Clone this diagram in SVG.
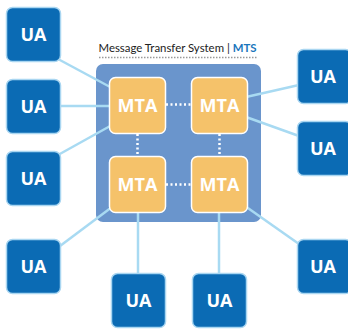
<svg xmlns="http://www.w3.org/2000/svg" width="348" height="331" viewBox="0 0 348 331">
<style>
.ua rect{fill:#0b6bb4;stroke:#a9d6f1;stroke-width:1.5}
.mta rect{fill:#f5c26a;stroke:#ffffff;stroke-width:1.5}
.lbl{font-family:"Open Sans","DejaVu Sans",sans-serif;font-weight:bold;font-size:18px;fill:#ffffff;text-anchor:middle}
.conn line{stroke:#a8daf2;stroke-width:2.5}
.dot line{stroke:#ffffff;stroke-width:2.5;stroke-dasharray:2 2.5}
</style>
<rect width="348" height="331" fill="#ffffff"/>
<g id="mts">
<rect x="96" y="64" width="165" height="158" rx="7" fill="#6a95cc"/>
<text x="98.5" y="52" font-family="Lato,'Open Sans',sans-serif" font-size="11.4" fill="#222">Message Transfer System | <tspan fill="#1a76bc" font-weight="bold">MTS</tspan></text>
<line x1="99" y1="57.5" x2="258" y2="57.5" stroke="#999" stroke-width="1.5" stroke-dasharray="1.5 1.5"/>
</g>
<g id="connectors" class="conn">
<line x1="58" y1="59" x2="112" y2="88"/>
<line x1="61" y1="106" x2="110" y2="106"/>
<line x1="58" y1="155" x2="112" y2="125"/>
<line x1="60" y1="246" x2="112" y2="207"/>
<line x1="138" y1="212" x2="138" y2="274"/>
<line x1="219" y1="212" x2="219" y2="274"/>
<line x1="245" y1="206" x2="299" y2="244"/>
<line x1="246" y1="97" x2="299" y2="85"/>
<line x1="246" y1="117" x2="299" y2="136"/>
</g>
<g id="mta-links" class="dot">
<line x1="166" y1="104.5" x2="191" y2="104.5"/>
<line x1="166" y1="184.5" x2="191" y2="184.5"/>
<line x1="137.5" y1="134" x2="137.5" y2="156"/>
<line x1="219.5" y1="134" x2="219.5" y2="156"/>
</g>
<g id="mta1" class="mta"><rect x="109.5" y="77.5" width="56" height="56" rx="6"/><text class="lbl" x="137.5" y="112">MTA</text></g>
<g id="mta2" class="mta"><rect x="191.5" y="77.5" width="56" height="56" rx="6"/><text class="lbl" x="219.5" y="112">MTA</text></g>
<g id="mta3" class="mta"><rect x="109.5" y="156.5" width="56" height="56" rx="6"/><text class="lbl" x="137.5" y="191">MTA</text></g>
<g id="mta4" class="mta"><rect x="191.5" y="156.5" width="56" height="56" rx="6"/><text class="lbl" x="219.5" y="191">MTA</text></g>
<g id="ua1" class="ua"><rect x="6.5" y="7.5" width="54" height="54" rx="6"/><text class="lbl" x="33.5" y="41">UA</text></g>
<g id="ua2" class="ua"><rect x="6.5" y="79.5" width="54" height="54" rx="6"/><text class="lbl" x="33.5" y="113">UA</text></g>
<g id="ua3" class="ua"><rect x="6.5" y="151.5" width="54" height="54" rx="6"/><text class="lbl" x="33.5" y="185">UA</text></g>
<g id="ua4" class="ua"><rect x="6.5" y="239.5" width="54" height="54" rx="6"/><text class="lbl" x="33.5" y="273">UA</text></g>
<g id="ua5" class="ua"><rect x="111.5" y="273.5" width="54" height="54" rx="6"/><text class="lbl" x="138.5" y="307">UA</text></g>
<g id="ua6" class="ua"><rect x="192.5" y="273.5" width="54" height="54" rx="6"/><text class="lbl" x="219.5" y="307">UA</text></g>
<g id="ua7" class="ua"><rect x="297.5" y="49.5" width="54" height="54" rx="6"/><text class="lbl" x="323" y="83">UA</text></g>
<g id="ua8" class="ua"><rect x="297.5" y="121.5" width="54" height="54" rx="6"/><text class="lbl" x="323" y="155">UA</text></g>
<g id="ua9" class="ua"><rect x="297.5" y="239.5" width="54" height="54" rx="6"/><text class="lbl" x="323" y="273">UA</text></g>
</svg>
